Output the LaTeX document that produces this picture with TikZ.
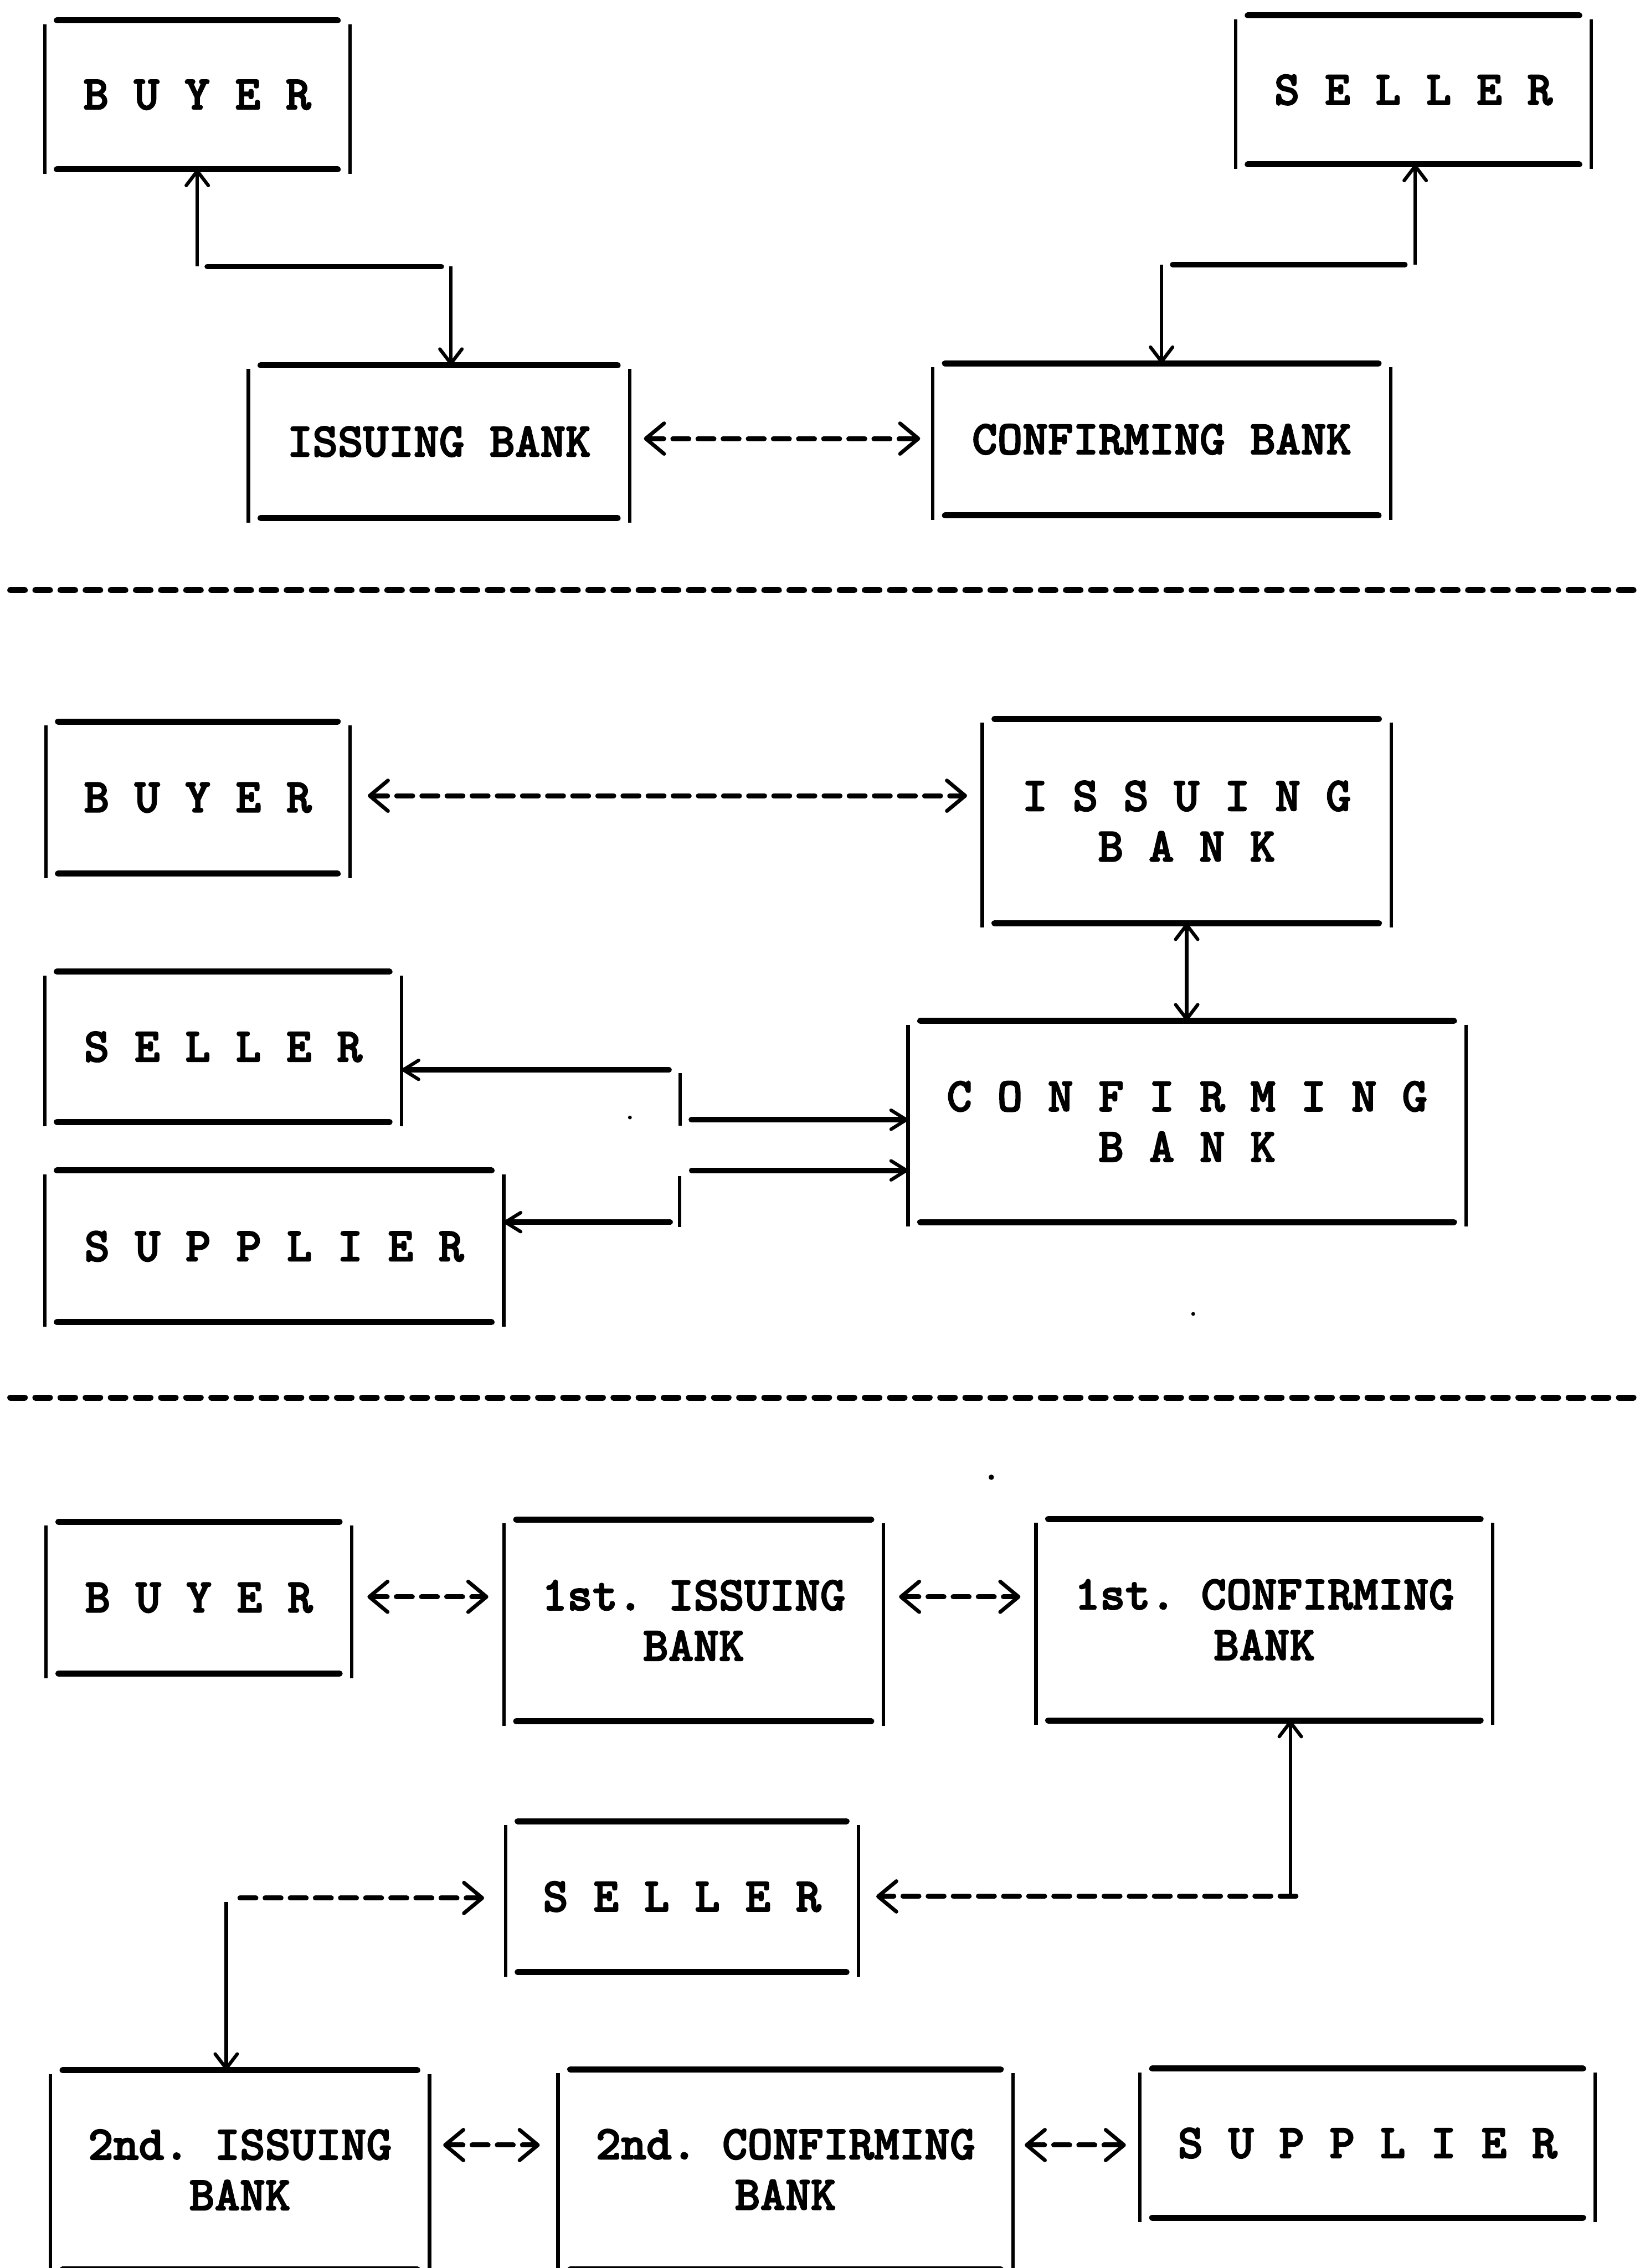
\documentclass[tikz,border=0pt]{standalone}
\usepackage{fontspec}
\usetikzlibrary{arrows.meta}
% heavy typewriter face for all labels
\newfontfamily\typew{lmmonolt10-bold}[Extension=.otf, FakeBold=2.4]
\tikzset{
  TipV/.tip={Straight Barb[length=0.38cm,width=0.58cm,line width=0.09cm,round]},
  TipL/.tip={Straight Barb[length=0.48cm,width=0.80cm,line width=0.10cm,round]},
  TipH/.tip={Straight Barb[length=0.40cm,width=0.50cm,line width=0.09cm,round]},
  box/.style={rectangle, inner sep=0pt, draw=none, align=center,
    font=\typew\frenchspacing\fontsize{36}{37.8}\selectfont},
  hline/.style={line width=0.16cm, line cap=round},
  vline/.style={line width=0.09cm},
  hseg/.style={line width=0.14cm, line cap=round},
  vseg/.style={line width=0.09cm},
  dseg/.style={line width=0.13cm, line cap=round, dash pattern=on 0.42cm off 0.24cm},
  sepline/.style={line width=0.16cm, line cap=round, dash pattern=on 0.38cm off 0.28cm},
}
\begin{document}
\begin{tikzpicture}[x=1cm,y=1cm]
\fill[white] (0,0) rectangle (43.06,-59.57);
\useasboundingbox (0,0) rectangle (43.06,-59.57);

% ---------- first arrangement ----------
\node[box, minimum width=8.00cm, minimum height=3.90cm] (b1) at (5.18,-2.49) {B U Y E R};
\node[box, minimum width=9.33cm, minimum height=3.90cm] (s1) at (37.115,-2.36) {S E L L E R};
\node[box, minimum width=10.00cm, minimum height=4.00cm] (i1) at (11.53,-11.60) {ISSUING BANK};
\node[box, minimum width=12.01cm, minimum height=3.98cm] (c1) at (30.505,-11.54) {CONFIRMING BANK};

% ---------- second arrangement ----------
\node[box, minimum width=7.97cm, minimum height=3.98cm] (b2) at (5.195,-20.95) {B U Y E R};
\node[box, minimum width=10.72cm, minimum height=5.35cm] (i2) at (31.16,-21.565) {I S S U I N G\\B A N K};
\node[box, minimum width=14.64cm, minimum height=5.27cm] (c2) at (31.17,-29.455) {C O N F I R M I N G\\B A N K};
\node[box, minimum width=9.36cm, minimum height=3.93cm] (s2) at (5.86,-27.495) {S E L L E R};
\node[box, minimum width=12.04cm, minimum height=3.97cm] (su2) at (7.20,-32.735) {S U P P L I E R};

% ---------- third arrangement ----------
\node[box, minimum width=8.01cm, minimum height=3.97cm] (b3) at (5.225,-41.965) {B U Y E R};
\node[box, minimum width=9.95cm, minimum height=5.28cm] (i3) at (18.215,-42.56) {1st. ISSUING\\BANK};
\node[box, minimum width=11.98cm, minimum height=5.28cm] (c3) at (33.20,-42.54) {1st. CONFIRMING\\BANK};
\node[box, minimum width=9.26cm, minimum height=3.95cm] (s3) at (17.91,-49.815) {S E L L E R};
\node[box, minimum width=9.94cm, minimum height=5.22cm] (i4) at (6.30,-56.99) {2nd. ISSUING\\BANK};
\node[box, minimum width=11.93cm, minimum height=5.24cm] (c4) at (20.625,-56.98) {2nd. CONFIRMING\\BANK};
\node[box, minimum width=11.94cm, minimum height=3.90cm] (su3) at (35.91,-56.29) {S U P P L I E R};

% typed frames: underscores on top and bottom, bars at the sides
\foreach \n in {b1,s1,i1,c1,b2,i2,c2,s2,su2,b3,i3,c3,s3,i4,c4,su3} {
  \draw[hline] ([xshift=0.32cm]\n.north west) -- ([xshift=-0.32cm]\n.north east);
  \draw[hline] ([xshift=0.32cm]\n.south west) -- ([xshift=-0.32cm]\n.south east);
  \draw[vline] ([yshift=-0.10cm]\n.north west) -- ([yshift=-0.12cm]\n.south west);
  \draw[vline] ([yshift=-0.10cm]\n.north east) -- ([yshift=-0.12cm]\n.south east);
}

% ---------- connectors, first arrangement ----------
\coordinate (k1) at (5.18,-7.00);
\coordinate (k2) at (11.84,-7.00);
\draw[vseg,{TipV}-] (b1.south) -- (k1);
\draw[hseg, shorten <=0.26cm, shorten >=0.25cm] (k1) -- (k2);
\draw[vseg,-{TipV}] (k2) -- (k2 |- i1.north);

\coordinate (k3) at (30.50,-6.95);
\coordinate (k4) at (37.16,-6.95);
\draw[vseg,-{TipV}] (k3) -- (k3 |- c1.north);
\draw[hseg, shorten <=0.29cm, shorten >=0.27cm] (k3) -- (k4);
\draw[vseg,-{TipV}] (k4) -- (k4 |- s1.south);

\coordinate (r1) at (0,-11.52);
\draw[dseg,{TipL}-{TipL}, shorten <=0.37cm, shorten >=0.33cm] (i1.east |- r1) -- (c1.west |- r1);

\draw[sepline] (0.27,-15.50) -- (43.06,-15.50);

% ---------- connectors, second arrangement ----------
\coordinate (r2) at (0,-20.90);
\draw[dseg,{TipL}-{TipL}, shorten <=0.47cm, shorten >=0.40cm] (b2.east |- r2) -- (i2.west |- r2);

\draw[vseg,{TipV}-{TipV}] (i2.south) -- (i2.south |- c2.north);

\coordinate (kA) at (17.86,-29.41);
\coordinate (kB) at (17.86,-28.10);
\draw[hseg,-{TipH}, shorten <=0.29cm] (kA) -- (kA -| c2.west);
\draw[vseg] ([yshift=-0.15cm]kA) -- ([yshift=-0.09cm]kB);
\draw[hseg,-{TipH}, shorten <=0.29cm] (kB) -- (kB -| s2.east);

\coordinate (kC) at (17.85,-30.74);
\coordinate (kD) at (17.85,-32.10);
\draw[hseg,-{TipH}, shorten <=0.31cm] (kC) -- (kC -| c2.west);
\draw[vseg] ([yshift=-0.15cm]kC) -- ([yshift=-0.13cm]kD);
\draw[hseg,-{TipH}, shorten <=0.25cm] (kD) -- (kD -| su2.east);

\draw[sepline] (0.27,-36.71) -- (43.06,-36.71);

% ---------- connectors, third arrangement ----------
\coordinate (r3) at (0,-41.94);
\draw[dseg,{TipL}-{TipL}, shorten <=0.41cm, shorten >=0.41cm] (b3.east |- r3) -- (i3.west |- r3);
\draw[dseg,{TipL}-{TipL}, shorten <=0.41cm, shorten >=0.41cm] (i3.east |- r3) -- (c3.west |- r3);

\coordinate (kE) at (33.88,-49.81);
\draw[vseg,{TipV}-] (kE |- c3.south) -- (kE);
\draw[dseg,-{TipL}, shorten >=0.46cm] ([xshift=0.15cm]kE) -- (kE -| s3.east);

\coordinate (kF) at (5.94,-49.85);
\draw[dseg,-{TipL}, shorten <=0.36cm, shorten >=0.56cm] (kF) -- (kF -| s3.west);
\draw[vseg,-{TipV}] ([yshift=-0.10cm]kF) -- (kF |- i4.north);

\coordinate (r4) at (0,-56.34);
\draw[dseg,{TipL}-{TipL}, shorten <=0.36cm, shorten >=0.48cm] (i4.east |- r4) -- (c4.west |- r4);
\draw[dseg,{TipL}-{TipL}, shorten <=0.31cm, shorten >=0.37cm] (c4.east |- r4) -- (su3.west |- r4);

% specks on the sheet
\fill (16.54,-29.35) circle (0.05);
\fill (31.33,-34.51) circle (0.05);
\fill (26.03,-38.80) circle (0.07);
\end{tikzpicture}
\end{document}
